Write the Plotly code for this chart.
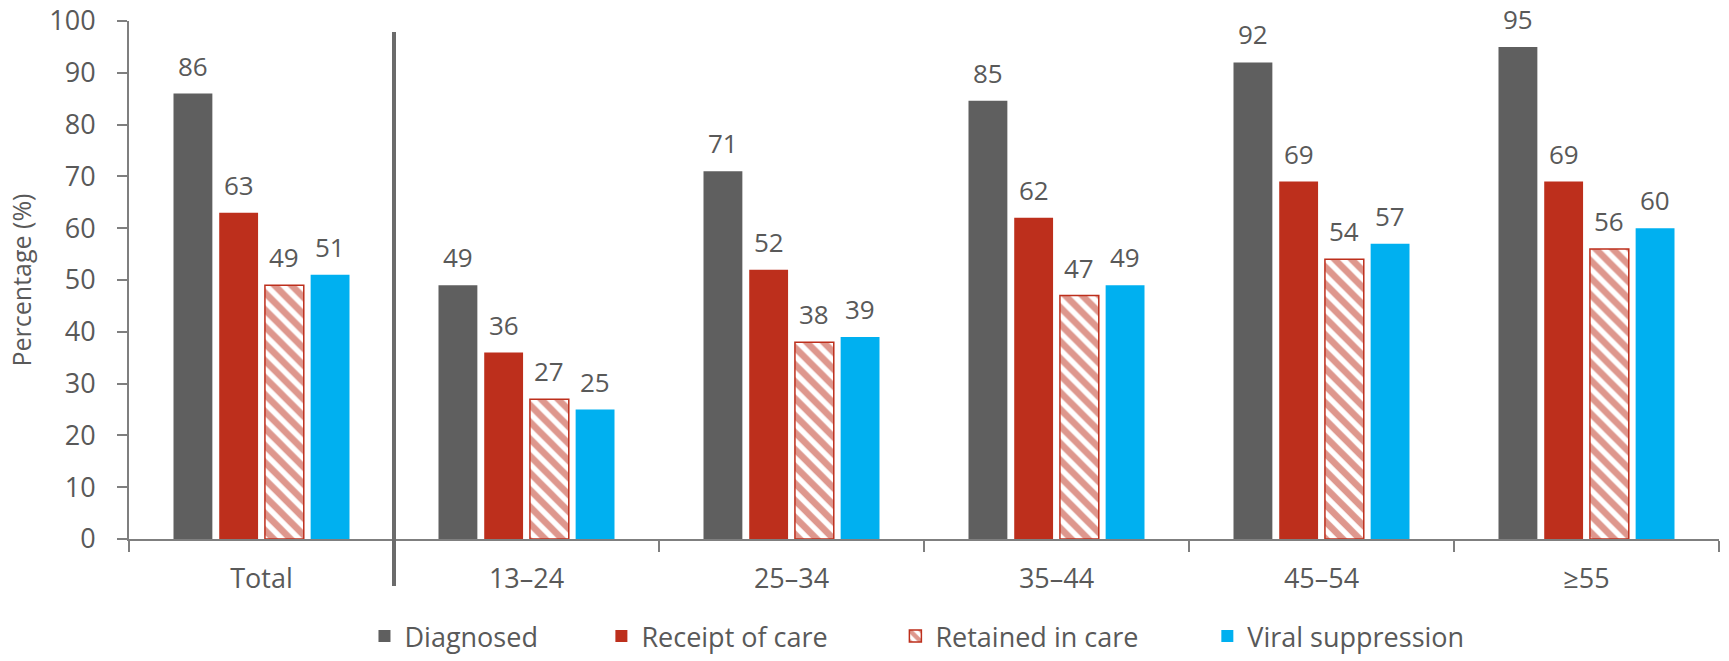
import plotly.graph_objects as go

categories = ["Total", "13–24", "25–34", "35–44", "45–54", "≥55"]
series_names = ["Diagnosed", "Receipt of care", "Retained in care", "Viral suppression"]
diagnosed = [86, 49, 71, 84.6, 92, 95]
receipt = [63, 36, 52, 62, 69, 69]
retained = [49, 27, 38, 47, 54, 56]
viral = [51, 25, 39, 49, 57, 60]
y_ticks = list(range(0, 101, 10))

colors = ["#5f5f5f", "#bd2f1c", "#bd2f1c", "#00b0f0"]
FONT = "Open Sans"
TXT = "#595959"
AX = "#7f7f7f"

values = [diagnosed, receipt, retained, viral]
legend_ids = ["legend", "legend2", "legend3", "legend4"]
legend_x = [0.1481, 0.2971, 0.4820, 0.6782]

fig = go.Figure()
for i, (name, vals) in enumerate(zip(series_names, values)):
    marker = dict(color=colors[i], line=dict(width=0))
    if name == "Retained in care":
        marker = dict(
            color="white",
            line=dict(color=colors[i], width=1.5),
            pattern=dict(shape="\\", fgcolor=colors[i], bgcolor="white", size=12, solidity=0.55),
        )
    fig.add_trace(go.Bar(
        x=categories, y=vals, name=name, marker=marker,
        legend=legend_ids[i], hoverinfo="skip",
    ))

# data labels above bars
nser = len(series_names)
bargap = 0.31
slot = (1 - bargap) / nser
for i, vals in enumerate(values):
    for j, v in enumerate(vals):
        fig.add_annotation(
            x=j + (i - (nser - 1) / 2) * slot, y=v, xref="x", yref="y",
            text=f"{round(v)}", showarrow=False, yanchor="middle", yshift=28,
            font=dict(family=FONT, size=26, color=TXT),
        )

# divider between Total and age groups
fig.add_shape(type="line", xref="x", yref="paper", x0=0.5, x1=0.5,
              y0=-0.0907, y1=0.9788, line=dict(color="#6b6b6b", width=4))

layout_legends = {}
for k, lid in enumerate(legend_ids):
    layout_legends[lid] = dict(
        x=legend_x[k], y=-0.2355, xanchor="left", yanchor="bottom",
        orientation="h", font=dict(family=FONT, size=27, color=TXT),
        bgcolor="rgba(0,0,0,0)",
    )

fig.update_layout(
    width=1729, height=661,
    margin=dict(l=129, r=10, t=21, b=122, autoexpand=False),
    paper_bgcolor="white", plot_bgcolor="white",
    barmode="group", bargap=bargap, bargroupgap=0.15,
    font=dict(family=FONT, color=TXT),
    showlegend=True,
    **layout_legends,
)
fig.update_xaxes(
    showline=True, linecolor=AX, linewidth=2,
    ticks="outside", tickson="boundaries", ticklen=11, tickcolor=AX, tickwidth=2,
    tickfont=dict(family=FONT, size=27, color=TXT), ticklabelstandoff=15,
    showgrid=False, zeroline=False, automargin=False,
)
fig.update_yaxes(
    range=[0, 100], tickvals=y_ticks, showline=True, linecolor=AX, linewidth=2,
    ticks="outside", ticklen=10, tickcolor=AX, tickwidth=2,
    tickfont=dict(family=FONT, size=27, color=TXT), ticklabelstandoff=16,
    showgrid=False, zeroline=False, automargin=False,
    title=dict(text="Percentage (%)", font=dict(family=FONT, size=25, color=TXT), standoff=11),
)

# remove the browser's default 8px body margin so the figure fills the window
fig.write_html(
    "out.html",
    config={"displayModeBar": False},
    post_script="document.body.style.margin='0';",
)
